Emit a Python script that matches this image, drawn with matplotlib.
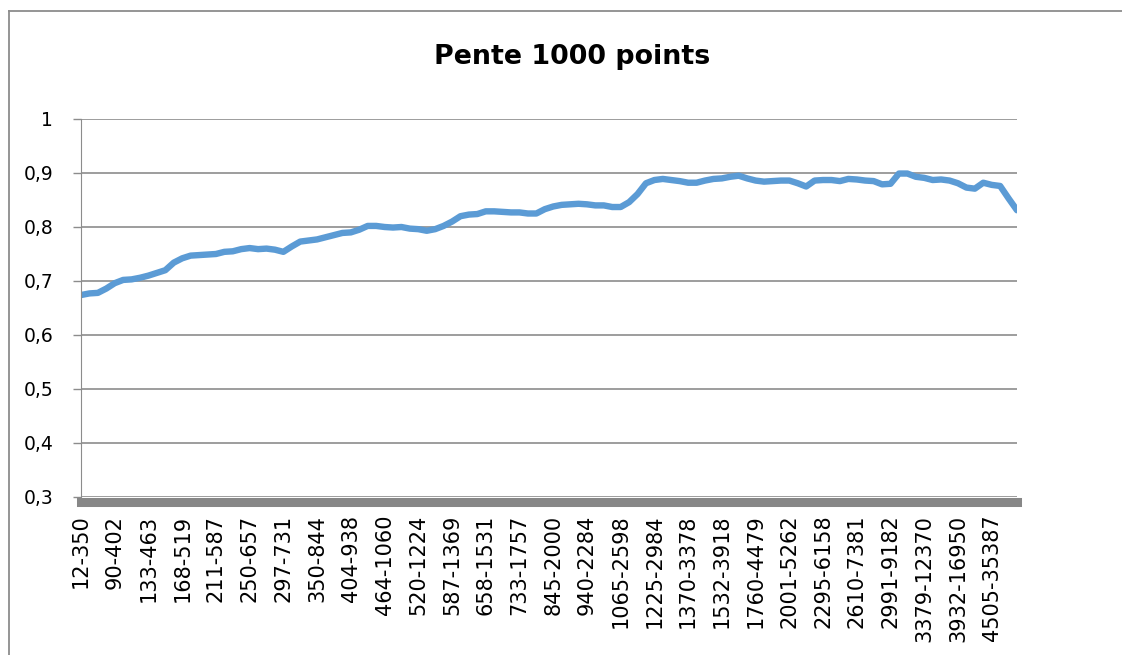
import matplotlib.pyplot as plt
from matplotlib.lines import Line2D

# category labels shown on the x axis (one every 4 points)
tick_labels = ['12-350', '90-402', '133-463', '168-519', '211-587', '250-657',
               '297-731', '350-844', '404-938', '464-1060', '520-1224', '587-1369',
               '658-1531', '733-1757', '845-2000', '940-2284', '1065-2598',
               '1225-2984', '1370-3378', '1532-3918', '1760-4479', '2001-5262',
               '2295-6158', '2610-7381', '2991-9182', '3379-12370', '3932-16950',
               '4505-35387']

# slope values
pente = [0.674, 0.677, 0.678, 0.686, 0.696, 0.702, 0.703, 0.706, 0.710, 0.715,
         0.720, 0.734, 0.742, 0.747, 0.748, 0.749, 0.750, 0.754, 0.755, 0.759,
         0.761, 0.759, 0.760, 0.758, 0.754, 0.764, 0.773, 0.775, 0.777, 0.781,
         0.785, 0.789, 0.790, 0.795, 0.802, 0.802, 0.800, 0.799, 0.800, 0.797,
         0.796, 0.793, 0.796, 0.802, 0.810, 0.820, 0.823, 0.824, 0.829, 0.829,
         0.828, 0.827, 0.827, 0.825, 0.825, 0.833, 0.838, 0.841, 0.842, 0.843,
         0.842, 0.840, 0.840, 0.837, 0.837, 0.846, 0.861, 0.881, 0.887, 0.889,
         0.887, 0.885, 0.882, 0.882, 0.886, 0.889, 0.890, 0.893, 0.895, 0.890,
         0.886, 0.884, 0.885, 0.886, 0.886, 0.881, 0.875, 0.886, 0.887, 0.887,
         0.885, 0.889, 0.888, 0.886, 0.885, 0.879, 0.880, 0.899, 0.899, 0.893,
         0.891, 0.887, 0.888, 0.886, 0.881, 0.873, 0.871, 0.882, 0.878, 0.876,
         0.853, 0.831]

y_ticks = [0.3, 0.4, 0.5, 0.6, 0.7, 0.8, 0.9, 1.0]
y_tick_labels = ['0,3', '0,4', '0,5', '0,6', '0,7', '0,8', '0,9', '1']

grey = '#8c8c8c'

fig = plt.figure(figsize=(11.22, 6.55), dpi=100)
ax = fig.add_axes([81 / 1122, 1 - 497 / 655, 936 / 1122, 378 / 655])

# spines first: moving a spine resets the tick settings
ax.spines['top'].set_visible(False)
ax.spines['right'].set_visible(False)
ax.spines['left'].set_color(grey)
ax.spines['bottom'].set_position(('outward', 3.25))
ax.spines['bottom'].set_color('#878787')
ax.spines['bottom'].set_linewidth(6.5)

ax.plot(range(len(pente)), pente, color='#5B9BD5', lw=4.6,
        solid_joinstyle='round', solid_capstyle='round')
ax.set_xlim(0, len(pente) - 1)
ax.set_ylim(0.3, 1)

ax.set_xticks([4 * i for i in range(len(tick_labels))])
ax.set_xticklabels(tick_labels, rotation=90, fontsize=15, va='top', ha='center')
ax.tick_params(axis='x', length=0, pad=9.5)

ax.set_yticks(y_ticks)
ax.set_yticklabels(y_tick_labels, fontsize=13.5)
ax.tick_params(axis='y', length=6, width=1, color=grey, pad=14)

ax.grid(axis='y', color=grey, lw=1.2)

fig.text(0.51, 1 - 63.5 / 655, 'Pente 1000 points', ha='center', va='baseline',
         fontsize=19.4, fontweight='bold')

# chart area border (only left and top are inside the picture)
fig.add_artist(Line2D([9 / 1122, 9 / 1122], [0, 1 - 10.5 / 655],
                      transform=fig.transFigure, color=grey, lw=1.3))
fig.add_artist(Line2D([9 / 1122, 1], [1 - 10.5 / 655, 1 - 10.5 / 655],
                      transform=fig.transFigure, color=grey, lw=1.3))

fig.savefig('out.png', dpi=100)
